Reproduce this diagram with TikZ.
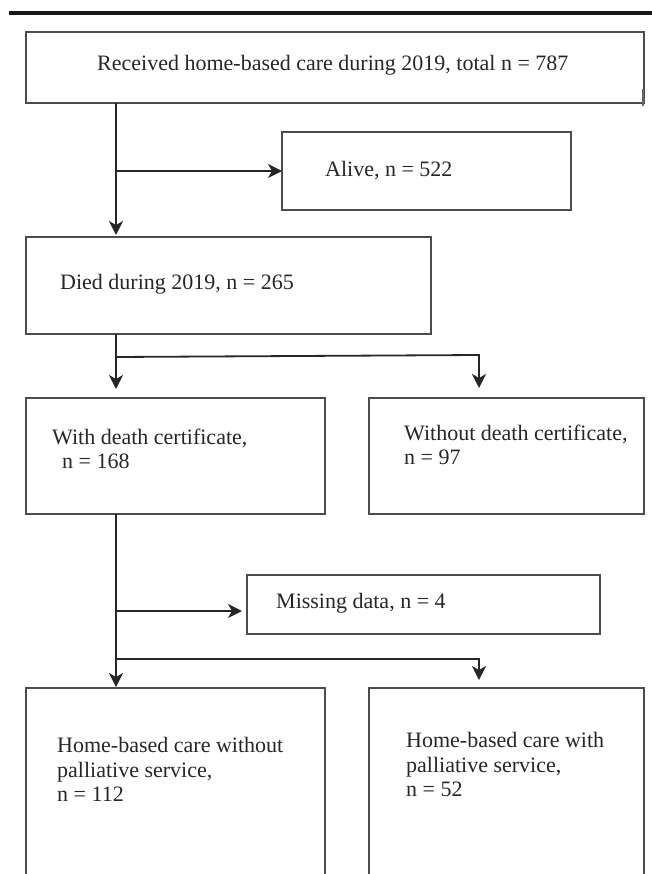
\documentclass[tikz,border=0pt]{standalone}
\usepackage{fontspec}
\setmainfont{Liberation Serif}
\usetikzlibrary{arrows.meta}
\begin{document}
\begin{tikzpicture}[x=1pt,y=-1pt,
  box/.style={draw=black!70, line width=1.2pt, inner sep=0pt, outer sep=0pt, anchor=north west},
  txt/.style={anchor=base west, inner sep=0pt, text=black!85, font=\fontsize{22}{26}\selectfont},
  conn/.style={draw=black!85, line width=1.8pt},
  arr/.style={conn, -{Stealth[length=14pt,width=14pt,inset=4pt]}}]
\useasboundingbox (0,0) rectangle (652,874);
\fill[black!90] (9,10.7) rectangle (652,14.7);
% boxes
\node[box, minimum width=618pt, minimum height=71pt] (b1) at (26,32) {};
\node[box, minimum width=289pt, minimum height=78pt] (alive) at (282,132) {};
\node[box, minimum width=405pt, minimum height=97pt] (died) at (26,237) {};
\node[box, minimum width=299pt, minimum height=116pt] (with) at (26,398) {};
\node[box, minimum width=275pt, minimum height=116pt] (without) at (369,398) {};
\node[box, minimum width=353pt, minimum height=59pt] (missing) at (247,575) {};
\node[box, minimum width=299pt, minimum height=240pt] (hb1) at (26,688) {};
\node[box, minimum width=275pt, minimum height=240pt] (hb2) at (369,688) {};
\draw[black!60, line width=1.4pt] ([shift={(-1,-14)}]b1.south east) -- ([shift={(-1,3)}]b1.south east);
% texts
\node[txt] (t1) at (97,71) {Received home-based care during 2019, total n = 787};
\node[txt] (t2) at (325,177) {Alive, n = 522};
\node[txt] (t3) at (60,289) {Died during 2019, n = 265};
\node[txt] (t4a) at (52,444) {With death certificate,};
\node[txt] (t4b) at (62,468) {n = 168};
\node[txt] (t5a) at (404,440) {Without death certificate,};
\node[txt] (t5b) at (404,464) {n = 97};
\node[txt] (t6) at (276,608) {Missing data, n = 4};
\node[txt] (t7a) at (57,752) {Home-based care without};
\node[txt] (t7b) at (57,777) {palliative service,};
\node[txt] (t7c) at (57,801) {n = 112};
\node[txt] (t8a) at (406,747) {Home-based care with};
\node[txt] (t8b) at (406,772) {palliative service,};
\node[txt] (t8c) at (406,796) {n = 52};
% connectors
\coordinate (s1) at (116,171);
\coordinate (s2) at (116,357);
\coordinate (s2r) at (479,355);
\coordinate (s3) at (116,611);
\coordinate (s4) at (116,659);
\coordinate (s4r) at (479,659);
\draw[arr, shorten >=2pt] (b1.south -| s1) -- (died.north -| s1);
\draw[arr] (s1) -- (alive.west |- s1);
\draw[conn] (died.south -| s2) -- (s2);
\draw[arr, shorten >=9pt] (s2) -- (with.north -| s2);
\draw[arr, shorten >=10pt] (s2) -- (s2r) -- (without.north -| s2r);
\draw[arr, shorten >=1pt] (with.south -| s3) -- (hb1.north -| s3);
\draw[arr, shorten >=5pt] (s3) -- (missing.west |- s3);
\draw[arr, shorten >=8pt] (s4) -- (s4r) -- (hb2.north -| s4r);
\end{tikzpicture}
\end{document}
